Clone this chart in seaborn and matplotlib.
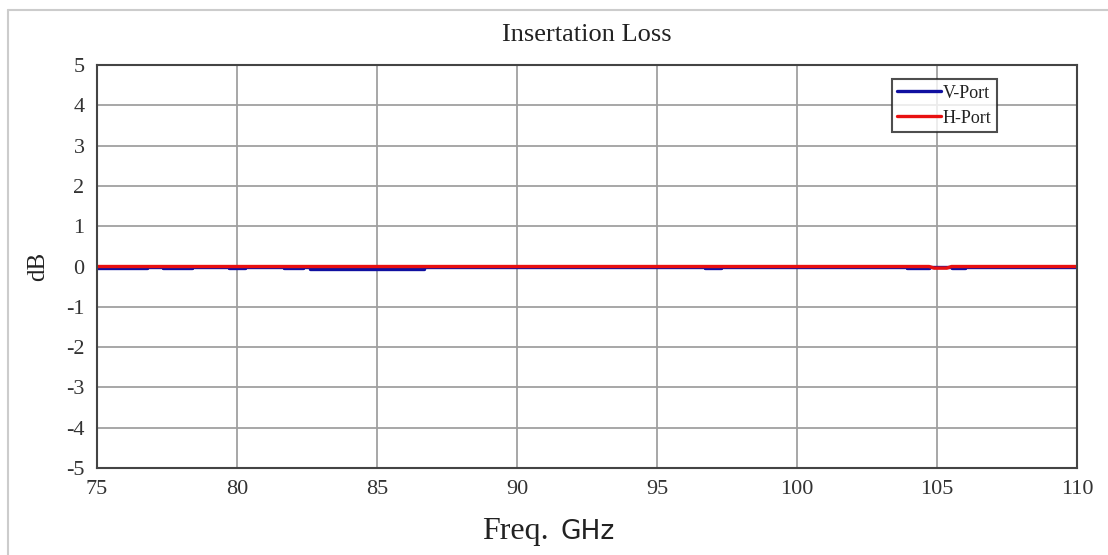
import matplotlib
matplotlib.use("Agg")
import matplotlib.pyplot as plt
from matplotlib.lines import Line2D
import seaborn as sns
import pandas as pd

# Data
v_freq = [75.0, 76.77, 76.77, 77.34, 77.34, 78.38, 78.38, 79.7, 79.7, 80.28, 80.28,
          81.68, 81.68, 82.36, 82.36, 82.6, 82.6, 86.68, 86.68, 96.71, 96.71, 97.27,
          97.27, 103.92, 103.92, 104.72, 104.72, 105.52, 105.52, 106.0, 106.0, 110.0]
v_db = [-0.04, -0.04, 0.0, 0.0, -0.04, -0.04, 0.0, 0.0, -0.04, -0.04, 0.0,
        0.0, -0.04, -0.04, 0.0, 0.0, -0.07, -0.07, 0.0, 0.0, -0.04, -0.04,
        0.0, 0.0, -0.04, -0.04, 0.0, 0.0, -0.04, -0.04, 0.0, 0.0]
h_freq = [75.0, 104.72, 104.9, 105.35, 105.52, 110.0]
h_db = [0.0, 0.0, -0.04, -0.04, 0.0, 0.0]

x_ticks = [75, 80, 85, 90, 95, 100, 105, 110]
y_ticks = [-5, -4, -3, -2, -1, 0, 1, 2, 3, 4, 5]

sns.set_style("white")
plt.rcParams['font.family'] = ['Liberation Serif', 'DejaVu Serif']

fig = plt.figure(figsize=(11.08, 5.55), dpi=100)
ax = fig.add_axes([97/1108, 1 - 468/555, (1077-97)/1108, (468-65)/555])

df_v = pd.DataFrame({"freq": v_freq, "dB": v_db})
df_h = pd.DataFrame({"freq": h_freq, "dB": h_db})
sns.lineplot(data=df_v, x="freq", y="dB", ax=ax, color="#1010a0", lw=2.4,
             sort=False, estimator=None, label="V-Port")
sns.lineplot(data=df_h, x="freq", y="dB", ax=ax, color="#e81010", lw=2.4,
             sort=False, estimator=None, label="H-Port")

ax.set_xlim(75, 110)
ax.set_ylim(-5, 5)
ax.set_xticks(x_ticks)
ax.set_yticks(y_ticks)
ax.set_xticklabels([str(t) for t in x_ticks])
ax.set_yticklabels([str(t) for t in y_ticks])
ax.grid(True, color="#a0a0a0", lw=1.3)
ax.tick_params(axis="both", labelsize=16, colors="#333333", length=0,
               left=True, bottom=True)
ax.tick_params(axis="y", pad=9)
ax.tick_params(axis="x", pad=9)
for s in ax.spines.values():
    s.set_color("#444444")
    s.set_linewidth(1.5)

ax.set_title("Insertation Loss", fontsize=19, color="#222222", pad=17)
ax.set_xlabel("")
ax.set_ylabel("dB", fontsize=18, color="#222222", labelpad=12)
fig.text(549/1108, 1 - 539/555, "Freq.", fontsize=23, color="#222222", ha="right",
         va="baseline")
fig.text(560/1108, 1 - 539/555, "GHz", fontsize=19, color="#222222", ha="left",
         va="baseline", family=['DejaVu Sans'])

leg = ax.legend(loc="upper right", bbox_to_anchor=(0.918, 0.965), fontsize=13,
                frameon=True, fancybox=False, handlelength=2.4, handletextpad=0.1,
                borderpad=0.3, labelspacing=0.45, borderaxespad=0)
leg.get_frame().set_edgecolor("#222222")
leg.get_frame().set_linewidth(1.5)
for t in leg.get_texts():
    t.set_color("#222222")

# light outer frame
fig.add_artist(Line2D([8/1108, 8/1108], [0, 1 - 10/555], color="#cccccc", lw=1.5,
                      transform=fig.transFigure))
fig.add_artist(Line2D([8/1108, 1], [1 - 10/555, 1 - 10/555], color="#cccccc", lw=1.5,
                      transform=fig.transFigure))

fig.savefig("out.png", dpi=100)
